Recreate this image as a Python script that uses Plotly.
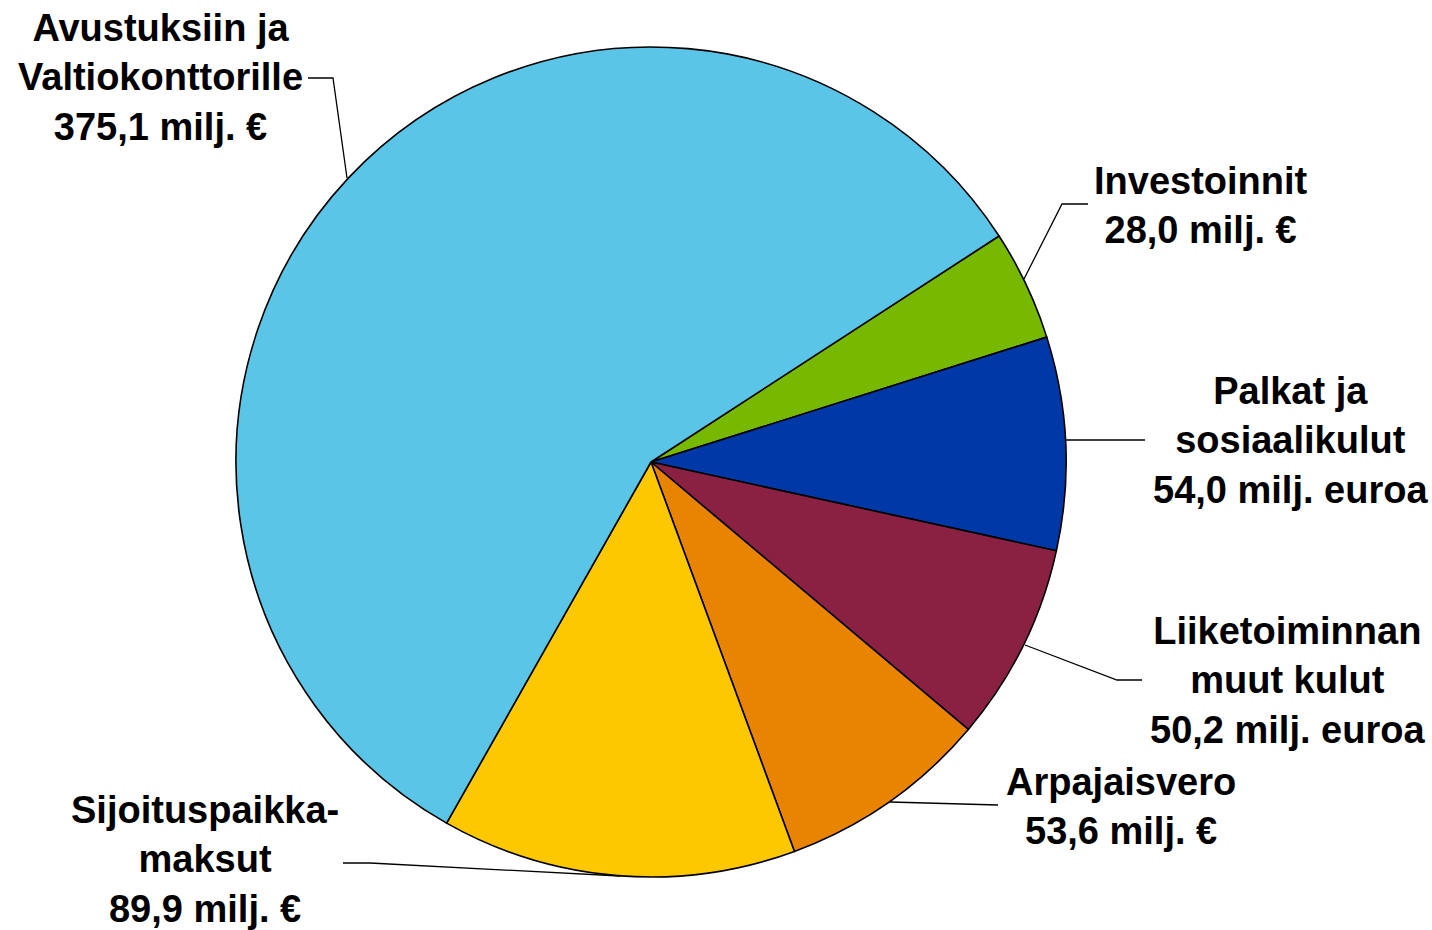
import plotly.graph_objects as go

W, H = 1432, 930

# Data (clockwise order starting from Investoinnit)
categories = ["Investoinnit", "Palkat ja sosiaalikulut", "Liiketoiminnan muut kulut",
              "Arpajaisvero", "Sijoituspaikkamaksut", "Avustuksiin ja Valtiokonttorille"]
values = [28.0, 54.0, 50.2, 53.6, 89.9, 375.1]
colors = ["#77B800", "#0038A8", "#8A2142", "#E88400", "#FDC800", "#5BC5E8"]
label_texts = [
    "Investoinnit<br>28,0 milj. €",
    "Palkat ja<br>sosiaalikulut<br>54,0 milj. euroa",
    "Liiketoiminnan<br>muut kulut<br>50,2 milj. euroa",
    "Arpajaisvero<br>53,6 milj. €",
    "Sijoituspaikka-<br>maksut<br>89,9 milj. €",
    "Avustuksiin ja<br>Valtiokonttorille<br>375,1 milj. €",
]

def px(x):
    return x / W

def py(y):
    return 1 - y / H

cx, cy, r = 651, 462, 415

fig = go.Figure(go.Pie(
    labels=categories,
    values=values,
    sort=False,
    direction="clockwise",
    rotation=57,
    marker=dict(colors=colors, line=dict(color="black", width=1.6)),
    textinfo="none",
    hoverinfo="label+value",
    showlegend=False,
    domain=dict(x=[px(cx - r), px(cx + r)], y=[py(cy + r), py(cy - r)]),
))

# label positions (pixel centers)
label_pos = [(1201, 206), (1290, 441), (1287, 680), (1121, 806), (205, 859), (160, 78)]
font = dict(family="Liberation Sans, Arial, sans-serif", size=38, color="black")
annotations = []
for (x, y), t in zip(label_pos, label_texts):
    annotations.append(dict(x=px(x), y=py(y), xref="paper", yref="paper", text="<b>" + t + "</b>",
                            showarrow=False, font=font, align="center",
                            xanchor="center", yanchor="middle"))

# leader lines (pixel polylines)
leaders = [
    [(1088, 204), (1062, 204), (1024, 279)],
    [(1065, 440), (1145, 440)],
    [(1025, 645), (1117, 680), (1142, 680)],
    [(890, 802), (998, 805)],
    [(343, 863), (370, 863), (620, 876)],
    [(308, 78), (333, 78), (347, 178)],
]
shapes = []
for pts in leaders:
    path = "M " + " L ".join(f"{px(x)},{py(y)}" for x, y in pts)
    shapes.append(dict(type="path", path=path, xref="paper", yref="paper",
                       line=dict(color="black", width=1.3)))

fig.update_layout(
    width=W, height=H,
    margin=dict(l=0, r=0, t=0, b=0),
    paper_bgcolor="white",
    plot_bgcolor="white",
    annotations=annotations,
    shapes=shapes,
)

fig.write_html("out.html", config={"displayModeBar": False},
               post_script="document.body.style.margin='0';document.body.style.overflow='hidden';")
